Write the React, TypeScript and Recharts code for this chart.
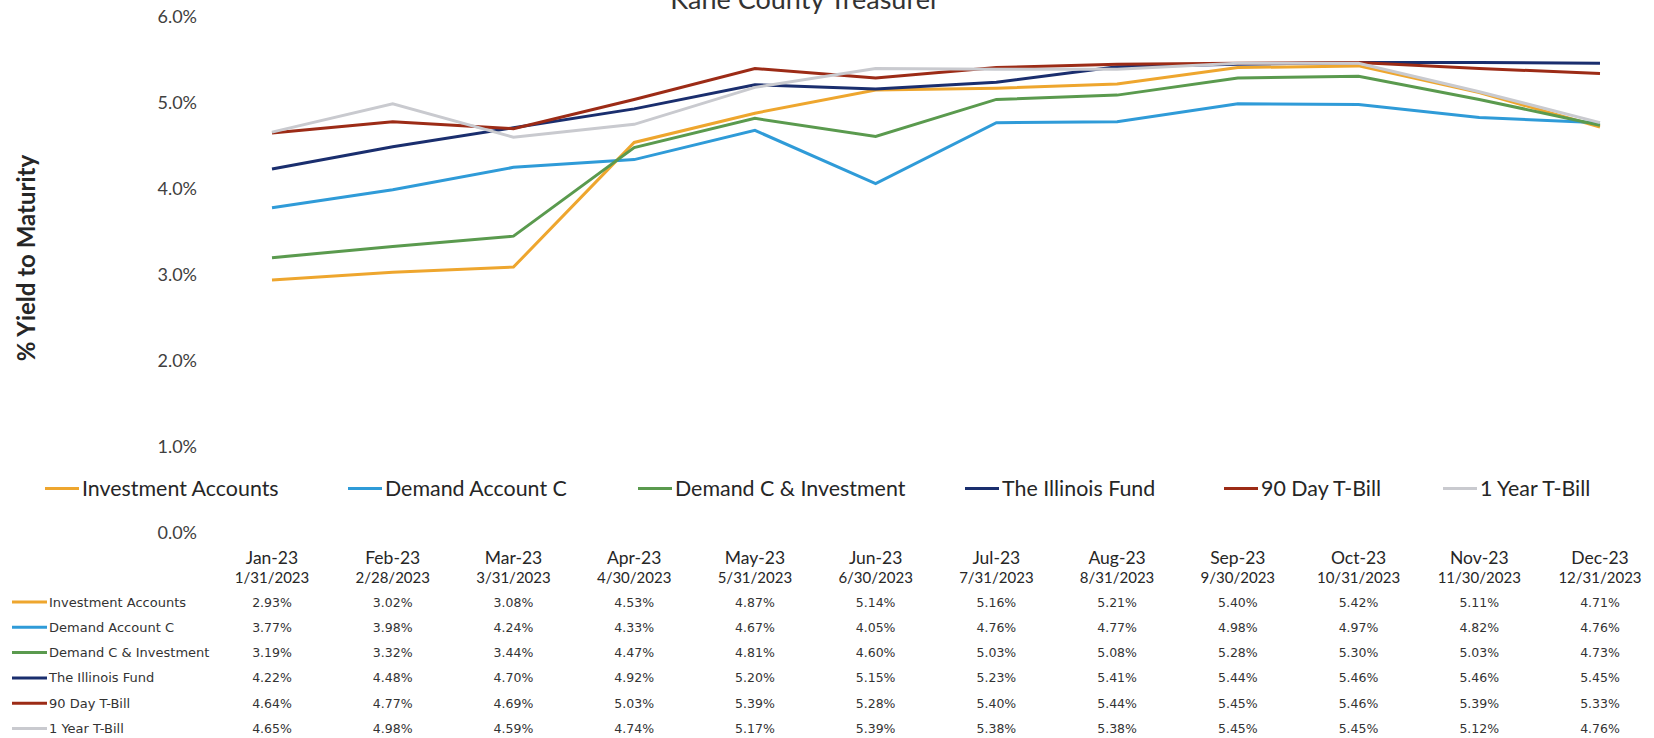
import React from 'react';
import { LineChart, Line, XAxis, YAxis, Legend } from 'recharts';

const months = ['Jan-23', 'Feb-23', 'Mar-23', 'Apr-23', 'May-23', 'Jun-23', 'Jul-23', 'Aug-23', 'Sep-23', 'Oct-23', 'Nov-23', 'Dec-23'];
const dates = ['1/31/2023', '2/28/2023', '3/31/2023', '4/30/2023', '5/31/2023', '6/30/2023', '7/31/2023', '8/31/2023', '9/30/2023', '10/31/2023', '11/30/2023', '12/31/2023'];
const investmentAccounts = [2.93, 3.02, 3.08, 4.53, 4.87, 5.14, 5.16, 5.21, 5.40, 5.42, 5.11, 4.71];
const demandAccountC = [3.77, 3.98, 4.24, 4.33, 4.67, 4.05, 4.76, 4.77, 4.98, 4.97, 4.82, 4.76];
const demandCInvestment = [3.19, 3.32, 3.44, 4.47, 4.81, 4.60, 5.03, 5.08, 5.28, 5.30, 5.03, 4.73];
const illinoisFund = [4.22, 4.48, 4.70, 4.92, 5.20, 5.15, 5.23, 5.41, 5.44, 5.46, 5.46, 5.45];
const tBill90 = [4.64, 4.77, 4.69, 5.03, 5.39, 5.28, 5.40, 5.44, 5.45, 5.46, 5.39, 5.33];
const tBill1Y = [4.65, 4.98, 4.59, 4.74, 5.17, 5.39, 5.38, 5.38, 5.45, 5.45, 5.12, 4.76];
const yTicks = [0, 1, 2, 3, 4, 5, 6];

const seriesNames = ['Investment Accounts', 'Demand Account C', 'Demand C & Investment', 'The Illinois Fund', '90 Day T-Bill', '1 Year T-Bill'];
const seriesKeys = ['inv', 'dac', 'dci', 'ilf', 't90', 't1y'];
const seriesValues = [investmentAccounts, demandAccountC, demandCInvestment, illinoisFund, tBill90, tBill1Y];
const seriesColors = ['#EEA62E', '#2F9BD8', '#5A9A4E', '#1A2E6E', '#9C2B16', '#C9CACF'];

const data = months.map((m, i) => {
  const row: any = { month: m, date: dates[i] };
  seriesKeys.forEach((k, s) => { row[k] = seriesValues[s][i]; });
  return row;
});

const legendLefts = [45, 348, 638, 965, 1224, 1443];
const rowY0 = 602;
const rowStep = 25.3;

const FONT = 'Lato, "Open Sans", sans-serif';
const TABLE_FONT = '"DejaVu Sans", Verdana, sans-serif';

const TableTick = (props: any) => {
  const { x, y, index } = props;
  const base = y - 538;
  return (
    <g>
      <text x={x} y={557 + base} textAnchor="middle" dominantBaseline="central" fontFamily={FONT} fontSize={17.5} fill="#262626">{months[index]}</text>
      <text x={x} y={577 + base} textAnchor="middle" dominantBaseline="central" fontFamily={FONT} fontSize={15} fill="#262626">{dates[index]}</text>
      {seriesValues.map((vals, s) => (
        <text key={s} x={x} y={rowY0 + s * rowStep + base} textAnchor="middle" dominantBaseline="central" fontFamily={TABLE_FONT} fontSize={12.5} fill="#333">{vals[index].toFixed(2) + '%'}</text>
      ))}
    </g>
  );
};

const YTick = (props: any) => {
  const { y, payload } = props;
  return (
    <text x={197} y={y} textAnchor="end" dominantBaseline="central" fontFamily={FONT} fontSize={18} fill="#404040">{Number(payload.value).toFixed(1) + '%'}</text>
  );
};

const LegendContent = (props: any) => {
  const payload = [...(props.payload || [])].sort((a: any, b: any) => seriesNames.indexOf(a.value) - seriesNames.indexOf(b.value));
  return (
    <div style={{ position: 'relative', height: 0, width: 1654, overflow: 'visible' }}>
      {payload.map((p: any) => {
        const i = seriesNames.indexOf(p.value);
        return (
          <div key={p.value} style={{ position: 'absolute', left: legendLefts[i], top: 0, display: 'flex', alignItems: 'center', height: 26, fontFamily: FONT, fontSize: 21.4, color: '#262626', whiteSpace: 'nowrap', lineHeight: '26px' }}>
            <span style={{ display: 'inline-block', width: 34, height: 3, background: p.color, marginRight: 3 }} />
            <span>{p.value}</span>
          </div>
        );
      })}
    </div>
  );
};

const YLabel = () => (
  <text x={25} y={258} transform="rotate(-90 25 258)" textAnchor="middle" dominantBaseline="central" fontFamily={FONT} fontWeight={700} fontSize={24} fill="#262626">% Yield to Maturity</text>
);

export default function App() {
  return (
    <div style={{ position: 'absolute', left: 0, top: 0, width: 1654, height: 738, background: '#fff', overflow: 'hidden' }}>
      <svg width={1654} height={40} style={{ position: 'absolute', left: 0, top: 0 }}>
        <text x={805} y={9} textAnchor="middle" fontFamily={FONT} fontSize={27} fill="#333">Kane County Treasurer</text>
      </svg>
      <LineChart width={1654} height={738} data={data} margin={{ top: 16, right: 54, bottom: 0, left: 0 }}>
        <XAxis dataKey="month" axisLine={false} tickLine={false} height={206} interval={0} tickMargin={0} tick={<TableTick />} padding={{ left: 0, right: 0 }} />
        <YAxis domain={[0, 6]} ticks={yTicks} axisLine={false} tickLine={false} width={272}
          tick={<YTick />}
          label={<YLabel />} />
        <Legend content={<LegendContent />} wrapperStyle={{ position: 'absolute', top: 475, left: 0, width: 1654, height: 0 }} />
        {seriesKeys.map((k, s) => (
          <Line key={k} type="linear" dataKey={k} name={seriesNames[s]} stroke={seriesColors[s]} strokeWidth={3} dot={false} isAnimationActive={false} />
        ))}
      </LineChart>
      <svg width={260} height={150} style={{ position: 'absolute', left: 0, top: 590 }}>
        {seriesNames.map((n, s) => (
          <g key={n}>
            <line x1={12} x2={47} y1={rowY0 + s * rowStep - 590} y2={rowY0 + s * rowStep - 590} stroke={seriesColors[s]} strokeWidth={3} />
            <text x={49} y={rowY0 + s * rowStep - 590} dominantBaseline="central" fontFamily={TABLE_FONT} fontSize={13} fill="#333">{n}</text>
          </g>
        ))}
      </svg>
    </div>
  );
}
